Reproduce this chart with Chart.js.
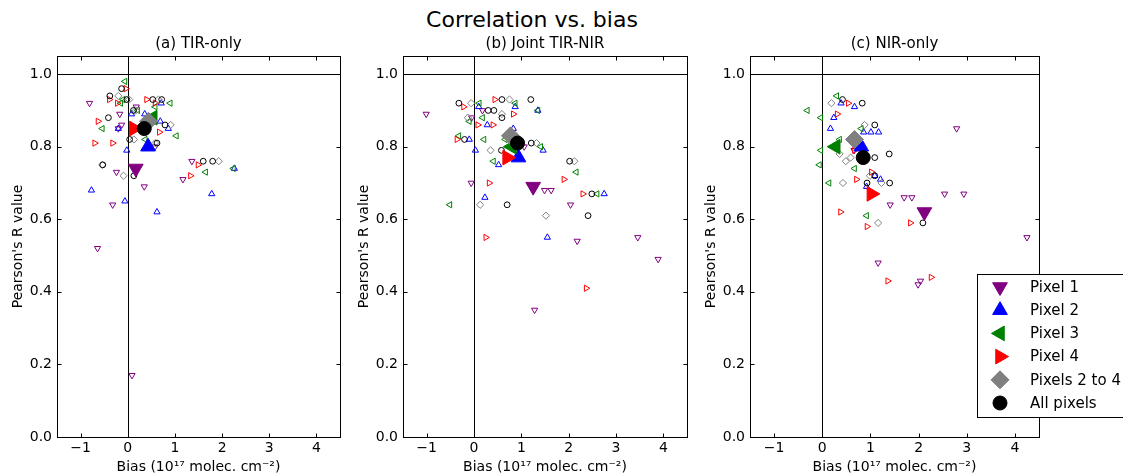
<!DOCTYPE html>
<html>
<head>
<meta charset="utf-8">
<script src="https://cdn.jsdelivr.net/npm/chart.js@4.4.1/dist/chart.umd.min.js"></script>
<style>
  body { margin: 0; width: 1123px; height: 474px; position: relative; background: #fff; overflow: hidden; font-family: "DejaVu Sans", sans-serif; }
  canvas { position: absolute; top: 0; }
  #title { position: absolute; top: 7px; left: 332px; width: 400px; text-align: center; font-size: 22px; color: #000; }
</style>
</head>
<body>
<div id="title">Correlation vs. bias</div>
<canvas id="tir" width="350" height="474" style="left:0px"></canvas>
<canvas id="joint" width="352" height="474" style="left:345px"></canvas>
<canvas id="nir" width="431" height="474" style="left:692px"></canvas>
<script>
// axis ticks and labels
const xTicks = [-1, 0, 1, 2, 3, 4]
const yTicks = [0, 0.2, 0.4, 0.6, 0.8, 1.0]
const seriesNames = ["Pixel 1", "Pixel 2", "Pixel 3", "Pixel 4", "Pixels 2 to 4", "All pixels"]
const panelTitles = ["(a) TIR-only", "(b) Joint TIR-NIR", "(c) NIR-only"]

// (a) TIR-only, [bias, R]
const tirPixel1 = [[-0.81,0.92],[-0.17,0.89],[-0.13,0.86],[-0.2,0.85],[0.18,0.91],[-0.24,0.73],[0.35,0.69],[-0.32,0.64],[1.36,0.76],[1.17,0.71],[-0.64,0.52],[0.09,0.17],[0.58,0.80]]
const tirPixel2 = [[0.08,0.89],[0.36,0.89],[0.71,0.92],[0.69,0.87],[0.86,0.85],[-0.2,0.85],[-0.02,0.79],[-0.77,0.68],[-0.06,0.65],[0.62,0.62],[2.26,0.74],[1.78,0.67]]
const tirPixel3 = [[-0.06,0.98],[-0.54,0.85],[0.21,0.90],[0.58,0.91],[0.9,0.92],[1.03,0.83],[0.37,0.82],[1.65,0.73],[2.24,0.74],[-0.15,0.92],[-0.1,0.93]]
const tirPixel4 = [[-0.04,0.96],[-0.39,0.93],[-0.22,0.92],[0.40,0.93],[-0.63,0.87],[-0.70,0.81],[-0.32,0.81],[0.67,0.84],[1.49,0.75],[1.33,0.72],[0.58,0.92]]
const tirPixels2to4 = [[-0.2,0.94],[0.03,0.93],[0.65,0.93],[0.17,0.90],[0.91,0.86],[0.13,0.82],[0.58,0.81],[-0.09,0.72],[-0.54,0.75],[1.93,0.76]]
const tirAll = [[-0.13,0.96],[-0.38,0.94],[-0.02,0.93],[0.53,0.93],[0.72,0.93],[0.12,0.90],[-0.41,0.88],[0.79,0.86],[0.04,0.82],[0.62,0.81],[-0.53,0.75],[0.13,0.72],[1.6,0.76],[1.8,0.76]]
const tirMeans = [[0.17,0.74],[0.43,0.80],[0.53,0.88],[0.13,0.85],[0.44,0.87],[0.35,0.85]]

// (b) Joint TIR-NIR
const jointPixel1 = [[-1.01,0.89],[-0.06,0.70],[-0.05,0.88],[0.18,0.90],[1.06,0.80],[1.49,0.68],[1.63,0.68],[2.04,0.64],[2.18,0.54],[3.46,0.55],[3.89,0.49],[1.28,0.35]]
const jointPixel2 = [[0.1,0.91],[0.28,0.86],[-0.1,0.82],[0.03,0.79],[0.83,0.85],[0.87,0.91],[1.35,0.90],[1.46,0.79],[0.52,0.75],[0.23,0.66],[2.75,0.67],[1.55,0.55]]
const jointPixel3 = [[0.11,0.92],[0.87,0.92],[0.18,0.88],[-0.1,0.87],[-0.32,0.83],[0.21,0.82],[0.41,0.76],[1.41,0.80],[-0.51,0.64],[0.66,0.82],[2.6,0.67],[2.16,0.73],[1.35,0.90]]
const jointPixel4 = [[-0.22,0.91],[0.44,0.93],[0.83,0.89],[0.08,0.86],[0.4,0.86],[-0.36,0.82],[0.32,0.70],[1.9,0.71],[2.3,0.67],[0.25,0.55],[2.37,0.41]]
const jointPixels2to4 = [[-0.06,0.92],[0.75,0.93],[-0.13,0.88],[0.59,0.89],[0.35,0.79],[1.32,0.81],[0.13,0.64],[1.52,0.61],[2.12,0.76]]
const jointAll = [[-0.32,0.92],[0.3,0.90],[0.42,0.90],[0.59,0.93],[1.2,0.93],[0.59,0.88],[-0.2,0.82],[1.21,0.81],[0.58,0.79],[0.7,0.64],[2.49,0.67],[2.41,0.61],[2.02,0.76]]
const jointMeans = [[1.25,0.69],[0.94,0.77],[0.8,0.80],[0.7,0.77],[0.77,0.83],[0.92,0.81]]

// (c) NIR-only
const nirPixel1 = [[1.70,0.66],[1.86,0.66],[1.41,0.64],[2.54,0.67],[2.94,0.67],[4.25,0.55],[1.16,0.48],[1.99,0.42],[2.04,0.43],[2.79,0.85],[0.66,0.79]]
const nirPixel2 = [[0.39,0.92],[0.67,0.91],[0.24,0.88],[0.17,0.85],[0.86,0.84],[1.01,0.84],[1.17,0.84],[1.09,0.72],[1.21,0.71],[0.92,0.69]]
const nirPixel3 = [[0.3,0.94],[-0.31,0.90],[-0.03,0.88],[0.81,0.85],[0.36,0.82],[-0.03,0.79],[-0.06,0.75],[0.67,0.74],[0.14,0.70],[0.92,0.61]]
const nirPixel4 = [[0.54,0.92],[0.31,0.89],[0.71,0.71],[1.02,0.73],[0.38,0.62],[0.93,0.58],[1.83,0.59],[1.36,0.43],[2.26,0.44],[0.67,0.79]]
const nirPixels2to4 = [[0.19,0.92],[0.88,0.86],[0.36,0.78],[0.49,0.76],[0.59,0.77],[0.43,0.70],[0.99,0.72],[1.23,0.70],[1.16,0.59]]
const nirAll = [[0.42,0.93],[0.83,0.92],[1.09,0.86],[1.09,0.77],[1.39,0.78],[0.93,0.70],[1.40,0.70],[1.09,0.72],[2.09,0.59]]
const nirMeans = [[2.12,0.62],[0.81,0.80],[0.28,0.80],[1.02,0.67],[0.67,0.82],[0.85,0.77]]

// marker styles, one per series
const colors = ["#800080", "#0000ff", "#008000", "#ff0000", "#808080", "#000000"]
const shapes = ["triangle", "triangle", "triangle", "triangle", "rectRot", "circle"]
const rotations = [180, 0, -90, 90, 0, 0]
const smallRadius = [3.6, 3.6, 3.6, 3.6, 3.6, 2.9]
const bigRadius = [8.5, 8.5, 8.5, 8.5, 9, 7]

Chart.defaults.font.family = "'DejaVu Sans', sans-serif"
Chart.defaults.color = "#000"

const framePlugin = {
    id: "frame",
    beforeDatasetsDraw(chart){
        const {ctx, chartArea: a, scales: {x, y}} = chart
        const x0 = Math.round(x.getPixelForValue(0)) + 0.5
        const y1 = Math.round(y.getPixelForValue(1)) + 0.5
        ctx.save()
        ctx.strokeStyle = "#000"
        ctx.lineWidth = 1
        ctx.beginPath()
        ctx.moveTo(x0, a.top); ctx.lineTo(x0, a.bottom)
        ctx.moveTo(a.left, y1); ctx.lineTo(a.right, y1)
        ctx.stroke()
        ctx.restore()
    },
    afterDatasetsDraw(chart){
        const {ctx, chartArea: a, scales: {x, y}} = chart
        const l = Math.round(a.left) + 0.5, r = Math.round(a.right) + 0.5
        const t = Math.round(a.top) + 0.5, b = Math.round(a.bottom) + 0.5
        ctx.save()
        ctx.strokeStyle = "#000"
        ctx.lineWidth = 1
        ctx.strokeRect(l, t, r - l, b - t)
        ctx.beginPath()
        for(let v of xTicks){
            const px = Math.round(x.getPixelForValue(v)) + 0.5
            ctx.moveTo(px, b); ctx.lineTo(px, b - 4)
            ctx.moveTo(px, t); ctx.lineTo(px, t + 4)
        }
        for(let v of yTicks){
            const py = Math.round(y.getPixelForValue(v)) + 0.5
            ctx.moveTo(l, py); ctx.lineTo(l + 4, py)
            ctx.moveTo(r, py); ctx.lineTo(r - 4, py)
        }
        ctx.stroke()
        ctx.restore()
    }
}

// legend box sitting over the third panel, as in the original figure
const legendPlugin = {
    id: "boxLegend",
    afterDraw(chart){
        const ctx = chart.ctx
        const left = 285.5, top = 274.5
        ctx.save()
        ctx.fillStyle = "#fff"
        ctx.strokeStyle = "#000"
        ctx.lineWidth = 1
        ctx.fillRect(left, top, 200, 143)
        ctx.strokeRect(left, top, 200, 143)
        ctx.font = "15px 'DejaVu Sans'"
        ctx.textBaseline = "middle"
        seriesNames.forEach((name, i) => {
            const cy = 287 + i * 23.2
            ctx.fillStyle = colors[i]
            ctx.strokeStyle = colors[i]
            Chart.helpers.drawPoint(ctx, {pointStyle: shapes[i], rotation: rotations[i], radius: bigRadius[i], borderWidth: 1}, 308, cy)
            ctx.fillStyle = "#000"
            ctx.fillText(name, 338, cy + 1)
        })
        ctx.restore()
    }
}

function toPoints(list){
    return list.map(p => ({x: p[0], y: p[1]}))
}

function makePanel(canvasId, title, series, means, yWidth, rightPad, withLegend){
    const datasets = []
    series.forEach((pts, i) => {
        datasets.push({
            label: seriesNames[i],
            data: toPoints(pts),
            pointStyle: shapes[i],
            rotation: rotations[i],
            pointRadius: smallRadius[i],
            borderColor: colors[i],
            backgroundColor: "rgba(0,0,0,0)",
            borderWidth: 1
        })
    })
    means.forEach((p, i) => {
        datasets.push({
            label: seriesNames[i] + " mean",
            data: toPoints([p]),
            pointStyle: shapes[i],
            rotation: rotations[i],
            pointRadius: bigRadius[i],
            borderColor: colors[i],
            backgroundColor: colors[i],
            borderWidth: 1
        })
    })
    // later datasets drawn on top
    datasets.forEach((d, i) => d.order = datasets.length - i)

    return new Chart(document.getElementById(canvasId), {
        type: "scatter",
        data: {datasets},
        options: {
            responsive: false,
            animation: false,
            events: [],
            devicePixelRatio: 1,
            layout: {padding: {left: 0, right: rightPad, top: 0, bottom: 0}},
            plugins: {
                legend: {display: false},
                tooltip: {enabled: false},
                title: {
                    display: true,
                    fullSize: false,
                    text: title,
                    font: {size: 15, weight: "normal", lineHeight: 1.2},
                    padding: {top: 35, bottom: 3},
                    color: "#000"
                }
            },
            scales: {
                x: {
                    type: "linear",
                    min: -1.5,
                    max: 4.5,
                    afterBuildTicks: s => { s.ticks = xTicks.map(v => ({value: v})) },
                    afterFit: s => { s.height = 37 },
                    grid: {display: false, drawTicks: false},
                    border: {display: false},
                    ticks: {
                        autoSkip: false,
                        padding: 3,
                        font: {size: 14},
                        callback: v => v < 0 ? "\u2212" + Math.abs(v) : String(v)
                    },
                    title: {
                        display: true,
                        text: "Bias (10\u00b9\u2077 molec. cm\u207b\u00b2)",
                        font: {size: 14, lineHeight: 1},
                        padding: {top: 0, bottom: 0}
                    }
                },
                y: {
                    type: "linear",
                    min: 0,
                    max: 1.05,
                    afterBuildTicks: s => { s.ticks = yTicks.map(v => ({value: v})) },
                    afterFit: s => { s.width = yWidth },
                    grid: {display: false, drawTicks: false},
                    border: {display: false},
                    ticks: {
                        autoSkip: false,
                        padding: 5,
                        font: {size: 14},
                        callback: v => v.toFixed(1)
                    },
                    title: {
                        display: true,
                        text: "Pearson's R value",
                        font: {size: 14},
                        padding: {top: yWidth - 47, bottom: 0}
                    }
                }
            }
        },
        plugins: withLegend ? [framePlugin, legendPlugin] : [framePlugin]
    })
}

makePanel("tir", panelTitles[0], [tirPixel1, tirPixel2, tirPixel3, tirPixel4, tirPixels2to4, tirAll], tirMeans, 57, 5, false)
makePanel("joint", panelTitles[1], [jointPixel1, jointPixel2, jointPixel3, jointPixel4, jointPixels2to4, jointAll], jointMeans, 58, 5, false)
makePanel("nir", panelTitles[2], [nirPixel1, nirPixel2, nirPixel3, nirPixel4, nirPixels2to4, nirAll], nirMeans, 58, 84, true)
</script>
</body>
</html>
